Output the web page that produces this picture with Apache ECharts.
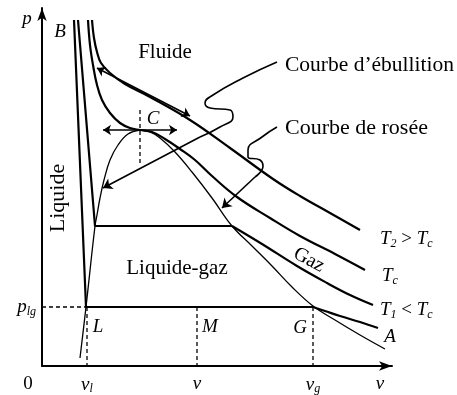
<!DOCTYPE html>
<html>
<head>
<meta charset="utf-8">
<script src="https://cdn.jsdelivr.net/npm/echarts@6/dist/echarts.min.js"></script>
<style>
  html, body { margin: 0; padding: 0; background: #fff; }
  #chart { width: 457px; height: 395px; }
</style>
</head>
<body>
<div id="chart"></div>
<script>
// Clapeyron diagram, v (abscissa) and p (ordinate) in arbitrary units
const vTicks = [45, 155, 271, 338];
const vTickLabels = ['{i|v}{s|l}', '{i|v}', '{i|v}{s|g}', '{i|v}'];
const pTicks = [59];
const pTickLabels = ['{i|p}{s|lg}'];

// isotherms
const isoLow = [[32, 346], [44, 59], [271, 59]];
const isoLowGas = [[271, 59], [283, 55], [298, 50], [318, 44], [336, 38]];
const isoT1 = [[36, 346], [53, 140], [190, 140]];
const isoT1Gas = [[190, 140], [220, 122], [255, 100], [285, 83], [308, 71], [331, 61]];
const isoTc = [[46, 346], [48, 321], [51, 301], [55, 281], [60, 266], [68, 253], [78, 243], [88, 238],
  [98, 236], [110, 234], [123, 227], [138, 217], [153, 206], [170, 190], [195, 169], [228, 148],
  [258, 130], [293, 112], [323, 96]];
const isoT2 = [[50, 346], [52, 328], [55, 314], [59, 303], [68, 293], [83, 282], [108, 269], [148, 246],
  [188, 218], [231, 187], [258, 170], [288, 153], [318, 136]];

// saturation dome
const boiling = [[38, 8], [44, 59], [53, 140], [55, 151], [58, 168], [62, 186], [68, 206], [76, 221],
  [86, 232], [98, 236]];
const dew = [[98, 236], [108, 234], [118, 228], [133, 214], [150, 194], [170, 168], [190, 140], [210, 120],
  [230, 100], [250, 79], [271, 60], [293, 46], [318, 31], [343, 17]];

// reference lines (dashed)
const dashed = [
  [[0, 59], [44, 59]],
  [[45, 59], [45, 0]],
  [[155, 59], [155, 0]],
  [[271, 59], [271, 0]],
  [[98, 256], [98, 203]],
];

// arrows
const doubleArrows = [
  [[55, 298], [148, 250]],
  [[61, 236], [135, 236]],
];
const pointerArrows = [
  [[158, 229], [61, 178]],
  [[213, 189], [180, 158]],
];
// wiggly leader lines of the two callouts
const leaderBoiling = [[235, 304], [201, 288], [171, 271], [163, 263], [168, 258], [188, 256], [191, 249],
  [178, 239], [158, 229]];
const leaderDew = [[235, 239], [220, 229], [206, 216], [206, 209], [218, 206], [221, 200], [213, 189]];

const serif = 'Liberation Serif';
const rich = {
  i: { fontFamily: serif, fontStyle: 'italic', fontSize: 19, color: '#000' },
  s: { fontFamily: serif, fontStyle: 'italic', fontSize: 12, color: '#000', padding: [9, 0, 0, 0] },
  r: { fontFamily: serif, fontSize: 19, color: '#000' },
};

const chart = echarts.init(document.getElementById('chart'));

function curve(data, width, smooth) {
  return {
    type: 'line',
    data: data,
    smooth: smooth,
    symbol: 'none',
    clip: false,
    silent: true,
    lineStyle: { color: '#000', width: width },
  };
}

function label(str, x, y, font, extra) {
  return Object.assign({
    type: 'text',
    x: x,
    y: y,
    style: {
      text: str,
      fill: '#000',
      font: font || '19px "Liberation Serif"',
      align: 'center',
      verticalAlign: 'middle',
      rich: rich,
    },
  }, extra || {});
}

function leftLabel(str, x, y, font) {
  const el = label(str, x, y, font);
  el.style.align = 'left';
  return el;
}

const series = [
  curve(isoLow, 2.2, false),
  curve(isoLowGas, 2.2, 0.4),
  curve(isoT1, 2.2, false),
  curve(isoT1Gas, 2.2, 0.4),
  curve(isoTc, 2.2, 0.4),
  curve(isoT2, 2.2, 0.4),
  curve(boiling, 1.3, 0.4),
  curve(dew, 1.3, 0.4),
  curve(leaderBoiling, 1.6, 0.5),
  curve(leaderDew, 1.6, 0.5),
];
dashed.forEach((seg) => {
  series.push({
    type: 'line',
    data: seg,
    symbol: 'none',
    silent: true,
    lineStyle: { color: '#000', width: 1.3, type: [4, 3] },
  });
});
series.push({
  type: 'lines',
  coordinateSystem: 'cartesian2d',
  symbol: ['arrow', 'arrow'],
  symbolSize: 8,
  silent: true,
  lineStyle: { color: '#000', width: 1.6, opacity: 1, curveness: 0 },
  data: doubleArrows.map((c) => ({ coords: c })),
});
series.push({
  type: 'lines',
  coordinateSystem: 'cartesian2d',
  symbol: ['none', 'arrow'],
  symbolSize: 9,
  silent: true,
  lineStyle: { color: '#000', width: 1.6, opacity: 1, curveness: 0 },
  data: pointerArrows.map((c) => ({ coords: c })),
});

const option = {
  animation: false,
  backgroundColor: '#fff',
  grid: { left: 42, top: 8, right: 65, bottom: 29 },
  xAxis: {
    type: 'value',
    min: 0,
    max: 350,
    splitLine: { show: false },
    axisTick: { show: false },
    axisLine: {
      show: true,
      symbol: ['none', 'arrow'],
      symbolSize: [7, 13],
      lineStyle: { color: '#000', width: 2 },
    },
    axisLabel: {
      customValues: vTicks,
      margin: 8,
      formatter: (v) => vTickLabels[vTicks.indexOf(v)],
      rich: rich,
    },
  },
  yAxis: {
    type: 'value',
    min: 0,
    max: 358,
    splitLine: { show: false },
    axisTick: { show: false },
    axisLine: {
      show: true,
      onZero: false,
      symbol: ['none', 'arrow'],
      symbolSize: [7, 13],
      lineStyle: { color: '#000', width: 2 },
    },
    axisLabel: {
      customValues: pTicks,
      margin: 6,
      formatter: (v) => pTickLabels[pTicks.indexOf(v)],
      rich: rich,
    },
  },
  series: series,
  graphic: [
    label('{i|p}', 27, 19),
    label('{i|B}', 60, 32),
    label('{i|C}', 153, 119),
    label('{i|L}', 98, 327),
    label('{i|M}', 210, 327),
    label('{i|G}', 300, 328),
    label('{i|A}', 390, 337),
    label('{r|0}', 28, 384),
    label('Fluide', 165, 52, '21px "Liberation Serif"'),
    leftLabel('Courbe d\u2019ébullition', 285, 65, '21.5px "Liberation Serif"'),
    leftLabel('Courbe de rosée', 285, 128, '22px "Liberation Serif"'),
    label('Liquide-gaz', 177, 268, '21px "Liberation Serif"'),
    label('Liquide', 58, 198, '22px "Liberation Serif"', { rotation: Math.PI / 2 }),
    label('Gaz', 309, 260, '20px "Liberation Serif"', { rotation: -0.5 }),
    leftLabel('{i|T}{s|2}{r| > }{i|T}{s|c}', 380, 239),
    leftLabel('{i|T}{s|c}', 382, 276),
    leftLabel('{i|T}{s|1}{r| < }{i|T}{s|c}', 380, 310),
  ],
};
chart.setOption(option);
</script>
</body>
</html>
